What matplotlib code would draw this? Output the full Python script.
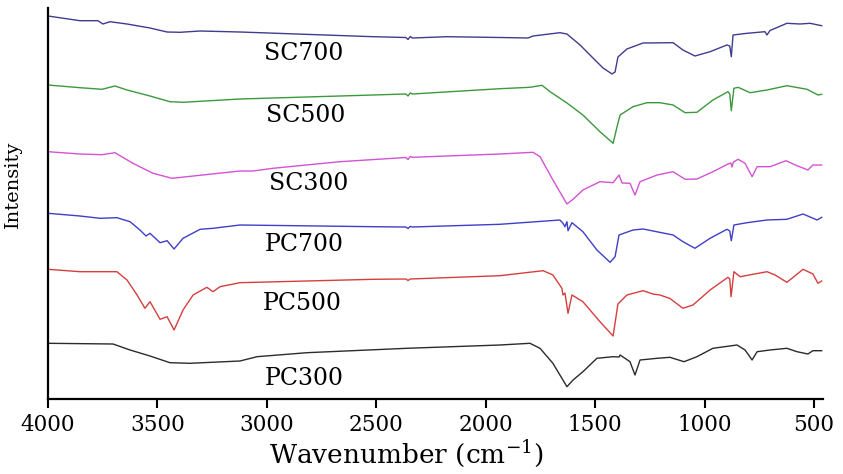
import matplotlib
matplotlib.use('Agg')
import matplotlib.pyplot as plt

plt.rcParams['font.family'] = ['DejaVu Serif']
plt.rcParams['mathtext.fontset'] = 'dejavuserif'

# FTIR spectra (intensity in arbitrary units, already offset)
sc700_wn = [4000, 3854, 3772, 3749, 3717, 3639, 3534, 3456, 3397, 3305, 3123, 2515, 2365, 2355, 2345, 2335,
            2177, 1935, 1807, 1784, 1661, 1629, 1569, 1510, 1464, 1423, 1409, 1396, 1355, 1281, 1144,
            1099, 1044, 975, 898, 885, 878, 870, 806, 724, 715, 701, 624, 564, 518, 465]
sc700 = [383, 378.3, 378.3, 375, 377.3, 375, 371, 367, 366.7, 368, 367, 362.3, 361.5, 359.5, 362.5, 361,
         362.3, 361.5, 361, 363, 366.3, 365, 354, 341, 331, 325, 327, 342, 350, 356, 356.3,
         349, 343, 347.3, 354, 353, 342.3, 364, 365.7, 367.3, 364, 368.5, 375.7, 375, 375.7, 373.3]

sc500_wn = [4000, 3854, 3753, 3694, 3639, 3534, 3443, 3383, 3123, 2515, 2365, 2355, 2345, 2335,
            1935, 1798, 1743, 1706, 1629, 1556, 1478, 1418, 1400, 1386, 1327, 1263, 1204, 1144,
            1089, 1035, 962, 893, 885, 878, 866, 847, 792, 715, 624, 532, 482, 465]
sc500 = [314, 311.3, 309.7, 313, 309, 303, 297.3, 296.7, 300, 304, 305, 303, 306, 305,
         310.3, 311.7, 313.7, 307.3, 296, 284, 267.3, 255.7, 272.3, 284, 292.3, 296.3, 296.3, 294,
         286.3, 286.7, 299, 307.3, 305, 288.3, 310.7, 311.7, 306.3, 309, 313.3, 309.7, 304, 304.7]

sc300_wn = [4000, 3854, 3753, 3694, 3612, 3520, 3433, 3365, 3123, 3063, 2972, 2666, 2365, 2355, 2345,
            2335, 1935, 1784, 1752, 1693, 1629, 1601, 1556, 1478, 1418, 1391, 1377, 1341, 1318, 1295,
            1217, 1144, 1089, 1035, 962, 893, 880, 875, 868, 847, 815, 783, 760, 701, 628, 578, 528,
            505, 465]
sc300 = [247.3, 245, 244.3, 246.3, 235.7, 225.7, 220.7, 222.3, 228, 228, 230.7, 237.3, 241.5, 239.5, 242.5,
         241.7, 245, 246.7, 242.3, 219, 195, 199.7, 209, 217.3, 216.3, 224, 216, 215.7, 204, 217.3,
         224, 227.3, 219.7, 220, 227.3, 235, 236, 232, 237, 239.7, 235.7, 222.3, 232.3, 232.3, 238.3,
         233.3, 229, 234, 234]

pc700_wn = [4000, 3854, 3762, 3685, 3625, 3580, 3552, 3534, 3488, 3456, 3424, 3383, 3305, 3246, 3123,
            2515, 2365, 2355, 2345, 2335, 1935, 1661, 1647, 1638, 1629, 1624, 1606, 1556, 1492, 1432,
            1409, 1391, 1327, 1281, 1144, 1099, 1044, 975, 898, 885, 878, 866, 806, 715, 624, 550,
            486, 465]
pc700 = [185.7, 183, 180.7, 181.3, 177.3, 169, 163, 165.7, 156.3, 158.3, 150, 160.7, 169.7, 170.7, 174,
         172.3, 172, 170.5, 172.5, 172, 174.7, 179, 175.7, 172.3, 177.3, 168.3, 176.3, 167.3, 149, 136.7,
         142.3, 164, 169, 170, 164, 157.3, 150.7, 160.7, 169.7, 168, 158.3, 174, 176.3, 179, 179.7, 185,
         179, 181.7]

pc500_wn = [4000, 3854, 3685, 3639, 3593, 3557, 3534, 3488, 3456, 3424, 3383, 3337, 3274, 3246, 3214,
            3123, 2515, 2365, 2355, 2345, 1935, 1738, 1693, 1652, 1647, 1638, 1624, 1606, 1556, 1478,
            1418, 1396, 1355, 1281, 1236, 1204, 1158, 1099, 1053, 975, 893, 885, 879, 866, 838, 715,
            678, 624, 550, 505, 482, 465]
pc500 = [129.7, 127.3, 127.3, 119, 104, 90.7, 97.3, 79.7, 82.3, 69, 89, 104, 111.7, 107.3, 112.3,
         116.3, 119.7, 120, 118.5, 120, 123.3, 128.3, 124, 110.7, 104, 106, 85.7, 104, 97.3, 77.3,
         63, 95, 104, 108.3, 105, 104, 100.5, 90.7, 94, 109, 121.7, 120, 102.3, 127.3, 122.3, 127.3,
         124, 116.7, 129.7, 125, 115.7, 118]

pc300_wn = [4000, 3703, 3625, 3534, 3443, 3351, 3123, 3045, 2817, 2360, 1935, 1798, 1752, 1693, 1629,
            1601, 1556, 1492, 1418, 1391, 1386, 1341, 1318, 1295, 1217, 1158, 1144, 1094, 1035, 962,
            852, 815, 783, 760, 701, 624, 578, 528, 505, 465]
pc300 = [55.7, 55, 49, 43, 36.3, 35.7, 38, 42.3, 46.3, 50.7, 54, 55.7, 50.7, 35.7, 12.3,
         19, 27.3, 40.7, 42.3, 42, 44, 37.3, 24, 39, 40.7, 41.7, 40.7, 37.3, 42.3, 50.7,
         54, 49, 39, 47.3, 49, 50.7, 47.3, 45, 48.3, 48.3]

names = ['SC700', 'SC500', 'SC300', 'PC700', 'PC500', 'PC300']
label_wn = [2830, 2821, 2810, 2830, 2837, 2830]
label_y = [339, 277, 209, 148, 89, 14]
colors = ['#3d3d8f', '#3c983c', '#d452d4', '#3e3ec9', '#d63e3e', '#2b2b2b']

spectra = [(sc700_wn, sc700), (sc500_wn, sc500), (sc300_wn, sc300),
           (pc700_wn, pc700), (pc500_wn, pc500), (pc300_wn, pc300)]

fig = plt.figure(figsize=(8.43, 4.74), dpi=100)
ax = fig.add_axes([48/843, 75/474, 775/843, 391/474])

for (wn, val), c in zip(spectra, colors):
    ax.plot(wn, val, color=c, lw=1.0)

for name, lx, ly in zip(names, label_wn, label_y):
    ax.text(lx, ly, name, ha='center', va='baseline', fontsize=17)

ax.set_xlim(4000, 459)
ax.set_ylim(0, 391)
ax.set_xticks([4000, 3500, 3000, 2500, 2000, 1500, 1000, 500])
ax.set_yticks([])
ax.tick_params(axis='x', direction='out', length=6.5, width=1.5, labelsize=15.5, pad=4)
for s in ['top', 'right']:
    ax.spines[s].set_visible(False)
for s in ['left', 'bottom']:
    ax.spines[s].set_linewidth(1.6)

fig.text(406/843, 11/474, 'Wavenumber (cm$^{-1}$)', ha='center', va='baseline', fontsize=19)
ax.set_ylabel('Intensity', fontsize=14)
ax.yaxis.set_label_coords(-0.033, 0.55)

fig.savefig('out.png', dpi=100)
